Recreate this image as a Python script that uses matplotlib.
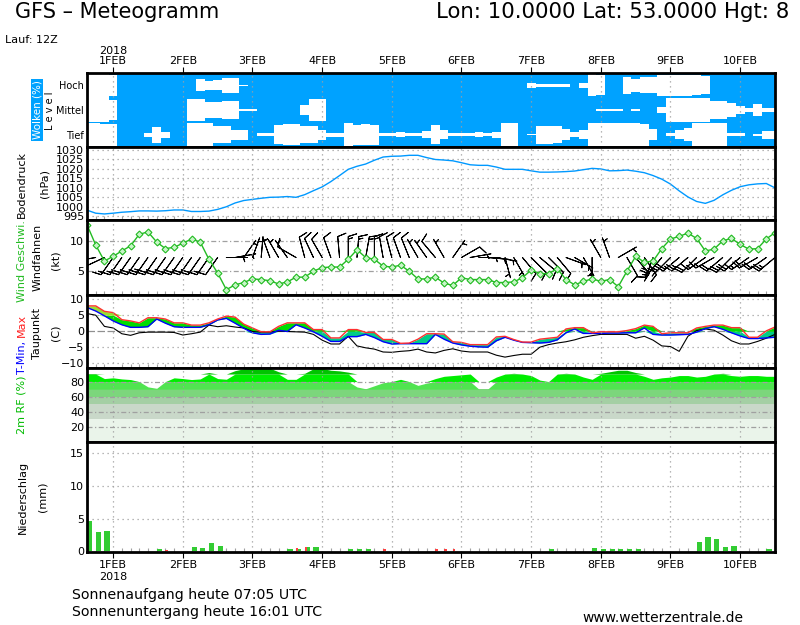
import numpy as np
import matplotlib
matplotlib.use('Agg')
import matplotlib.pyplot as plt
from matplotlib.colors import ListedColormap

#%% Data (3-hourly, days since 1 Feb 2018 00Z, first value 31 Jan 15Z)
t3 = -0.375 + 0.125 * np.arange(80)
day_ticks = list(range(10))
day_labels = ['1FEB', '2FEB', '3FEB', '4FEB', '5FEB', '6FEB', '7FEB', '8FEB', '9FEB', '10FEB']

# cloud cover (%) per level
cloud_low = [5, 5, 10, 10, 100, 100, 100, 84, 36, 77,
             100, 100, 3, 3, 5, 30, 30, 60, 60, 100,
             90, 90, 22, 16, 15, 29, 32, 60, 84, 84,
             7, 20, 15, 20, 85, 85, 80, 90, 90, 70,
             22, 61, 86, 86, 86, 80, 90, 75, 8, 8,
             100, 95, 27, 27, 30, 58, 82, 65, 7, 5,
             3, 3, 5, 7, 10, 56, 100, 89, 63, 45,
             3, 3, 3, 5, 89, 89, 100, 93, 68, 68]
cloud_mid = [0, 0, 0, 20, 100, 100, 100, 100, 100, 100,
             100, 100, 10, 10, 35, 35, 25, 25, 90, 95,
             100, 100, 100, 100, 100, 58, 10, 10, 100, 100,
             100, 100, 100, 100, 100, 100, 100, 100, 100, 100,
             100, 100, 100, 100, 100, 100, 100, 100, 100, 100,
             100, 100, 100, 100, 100, 100, 100, 100, 100, 95,
             95, 95, 100, 90, 100, 100, 73, 5, 5, 5,
             5, 5, 25, 25, 45, 70, 84, 48, 82, 82]
cloud_high = [0, 0, 0, 15, 100, 100, 100, 100, 100, 100,
              100, 100, 100, 52, 62, 60, 40, 40, 95, 100,
              100, 100, 100, 100, 100, 100, 100, 100, 100, 100,
              100, 100, 100, 100, 100, 100, 100, 100, 100, 100,
              100, 100, 100, 100, 100, 100, 100, 100, 100, 100,
              100, 80, 86, 86, 86, 86, 100, 82, 10, 20,
              100, 100, 32, 45, 35, 35, 14, 14, 14, 14,
              18, 28, 100, 100, 100, 100, 100, 100, 100, 100]

# surface pressure (hPa)
pressure = [998.2, 996.6, 996.2, 996.6, 997.1, 997.4, 997.8, 997.8, 997.7, 997.9,
            998.3, 998.3, 997.5, 997.5, 997.7, 998.6, 1000.0, 1002.0, 1003.3, 1003.9,
            1004.5, 1005.0, 1005.1, 1005.4, 1005.0, 1006.4, 1008.5, 1010.5, 1013.3, 1016.5,
            1019.8, 1021.4, 1022.6, 1024.6, 1026.3, 1026.7, 1026.8, 1027.2, 1027.2, 1026.0,
            1025.0, 1024.7, 1024.3, 1023.3, 1022.2, 1021.9, 1021.9, 1021.0, 1019.8, 1019.8,
            1019.8, 1019.0, 1018.3, 1018.3, 1018.4, 1018.6, 1018.9, 1019.6, 1020.3, 1020.0,
            1019.0, 1019.1, 1019.4, 1018.8, 1018.0, 1016.5, 1014.6, 1012.0, 1008.4, 1005.2,
            1002.8, 1001.8, 1003.4, 1006.3, 1008.7, 1010.6, 1011.6, 1012.1, 1012.3, 1010.0]

# wind speed (kt) and direction (deg, from)
wind_speed = [12.8, 9.4, 6.7, 7.5, 8.4, 9.25, 11.2, 11.6, 9.9, 8.8,
              9.0, 9.7, 10.4, 9.9, 7.0, 4.7, 1.9, 2.7, 3.1, 3.7,
              3.6, 3.4, 2.85, 3.2, 4.0, 4.0, 5.0, 5.6, 5.7, 5.7,
              7.0, 8.6, 7.3, 7.0, 5.85, 5.7, 6.0, 5.0, 3.7, 3.7,
              4.0, 3.0, 2.6, 3.9, 3.6, 3.6, 3.6, 3.1, 3.1, 3.2,
              3.9, 5.2, 4.6, 4.6, 5.4, 3.6, 2.7, 3.3, 3.7, 3.3,
              3.6, 2.4, 5.0, 7.5, 6.5, 6.7, 8.8, 10.4, 10.85, 11.4,
              10.5, 8.4, 8.7, 10.1, 10.5, 9.5, 8.7, 8.8, 10.4, 11.5]
wind_dir = [270, 260, 245, 215, 215, 215, 215, 215, 215, 215,
            215, 215, 215, 215, 215, 215, 90, 80, 35, 20,
            5, 340, 330, 325, 300, 345, 335, 330, 340, 355,
            0, 5, 10, 0, 350, 345, 340, 338, 330, 325,
            320, 330, 35, 60, 80, 90, 95, 100, 165, 150,
            140, 135, 130, 135, 140, 110, 120, 150, 180, 330,
            340, 60, 150, 140, 145, 200, 220, 225, 230, 230,
            225, 235, 240, 230, 225, 230, 235, 240, 235, 230]

# temperature (C)
t_max = [7.9, 7.9, 6.2, 5.8, 3.6, 3.2, 2.6, 4.2, 4.2, 3.8,
         2.6, 2.6, 1.9, 1.9, 2.6, 3.8, 4.7, 4.4, 2.2, 1.0,
         -0.2, -0.2, 1.5, 2.6, 2.6, 2.6, 0.5, 0.5, -2.1, -2.1,
         0.5, 0.5, -0.4, -0.4, -2.6, -2.6, -3.8, -3.7, -2.5, -0.8,
         -0.8, -0.9, -3.3, -3.5, -4.2, -4.2, -4.2, -1.8, -1.6, -2.6,
         -3.4, -3.4, -2.5, -2.2, -1.9, 0.7, 1.1, 1.1, -0.5, -0.2,
         -0.2, -0.2, 0.2, 0.8, 1.9, 1.5, -0.8, -0.5, -0.5, -0.5,
         1.0, 1.5, 1.9, 1.9, 1.1, 1.1, -1.9, -1.9, 0.1, 1.3]
t_min = [7.4, 6.3, 4.8, 3.2, 2.0, 1.2, 1.2, 1.4, 3.8, 2.5,
         1.4, 1.2, 1.2, 1.2, 2.0, 3.5, 4.0, 2.5, 0.9, -0.5,
         -1.0, -0.9, 0.3, -0.1, 2.0, 1.0, -0.2, -1.6, -3.2, -3.2,
         -1.7, -1.7, -1.0, -2.0, -3.3, -4.0, -3.9, -3.9, -3.9, -3.9,
         -1.0, -2.5, -3.7, -4.3, -4.7, -4.9, -5.0, -3.0, -1.9, -2.8,
         -3.5, -3.6, -3.7, -3.5, -2.7, -0.5, 0.7, -0.7, -0.7, -0.7,
         -0.6, -0.6, -0.5, -0.5, 1.0, -1.0, -1.2, -1.2, -1.1, -1.0,
         -0.3, 0.8, 1.4, 0.6, -0.5, -1.5, -2.3, -2.3, -2.1, -1.9]
dew_point = [5.5, 5.0, 1.5, 1.0, -0.8, -1.3, -0.5, -0.3, -0.3, -0.3,
             -0.4, -1.2, -0.8, -0.3, 1.9, 1.4, 1.7, 1.3, 1.0, -0.1,
             -0.3, -0.3, 0.0, -0.1, -0.2, -0.3, -1.0, -2.8, -4.0, -4.0,
             -1.6, -4.6, -5.2, -5.6, -6.5, -6.6, -6.3, -6.1, -5.6, -6.5,
             -6.8, -6.0, -5.5, -6.2, -6.5, -6.5, -6.5, -7.5, -8.1, -7.6,
             -7.2, -7.2, -5.0, -4.2, -3.7, -3.3, -2.7, -1.9, -1.4, -1.0,
             -1.0, -1.0, -1.0, -2.2, -1.6, -2.8, -4.6, -4.8, -6.3, -1.6,
             0.2, 0.7, 0.3, -1.2, -3.0, -4.0, -4.0, -3.2, -2.2, -1.0]

# 2m relative humidity (%)
rel_hum = [90.7, 90.7, 84, 85, 83.5, 82.7, 80, 73, 71.1, 80,
           85, 84, 82.7, 83.5, 92, 84, 83.1, 94.5, 97, 98,
           98.5, 97.7, 93, 83, 83, 91, 97, 97.5, 95, 94.2,
           92.5, 72.9, 70.5, 74.5, 78.5, 80, 83, 80, 75, 78,
           84, 87, 88, 89, 90, 70, 70, 86, 90, 91,
           90, 88, 82, 80, 90, 91, 90, 86, 83, 91,
           93, 95, 95, 92, 87, 83, 85, 86, 88, 88,
           86, 87, 90, 91, 88, 87, 88, 88, 87, 87]

# precipitation (mm / 3h)
precip = [4.6, 2.9, 3.1, 0, 0, 0, 0, 0, 0.3, 0,
          0, 0, 0.7, 0.5, 1.3, 0.8, 0, 0, 0, 0,
          0, 0, 0, 0.3, 0.4, 0.6, 0.6, 0, 0, 0,
          0.3, 0.3, 0.3, 0, 0, 0, 0, 0, 0, 0,
          0, 0, 0, 0, 0, 0, 0, 0, 0, 0,
          0, 0, 0, 0.3, 0, 0, 0, 0, 0.5, 0.35,
          0.35, 0.35, 0.35, 0.35, 0, 0, 0, 0, 0, 0,
          1.5, 2.2, 1.9, 0.7, 0.8, 0, 0, 0, 0.3, 0]
precip_conv = [0.3, 0, 0, 0, 0, 0, 0, 0, 0, 0.15,
               0, 0, 0, 0, 0, 0, 0.1, 0, 0, 0,
               0, 0, 0, 0, 0.5, 0.6, 0, 0, 0, 0,
               0, 0, 0, 0, 0.3, 0, 0, 0, 0, 0,
               0.3, 0.3, 0.3, 0, 0, 0, 0, 0, 0, 0,
               0, 0, 0, 0, 0, 0, 0, 0, 0, 0,
               0, 0, 0, 0, 0, 0, 0, 0, 0, 0,
               0, 0, 0, 0, 0, 0, 0, 0, 0, 0]

rh_levels = [0, 30, 50, 60, 70, 80, 90, 100]
rh_colors = ['#EAF4EA', '#C9D8C9', '#A4CFA4', '#7CD67C', '#50E450', '#00EE00', '#00C400']

#%% Figure layout (pixel based, 800x625)
fig = plt.figure(figsize=(8, 6.25), dpi=100)
W_PX, H_PX = 800, 625
LEFT, RIGHT = 87, 775

def px(x, y):
    return x / W_PX, 1 - y / H_PX

def panel(top, bottom):
    return fig.add_axes([LEFT / W_PX, 1 - bottom / H_PX, (RIGHT - LEFT) / W_PX, (bottom - top) / H_PX])

grid_col = '#A0A0A0'
dotted = (0, (1, 3))
dashdot = (0, (4, 2, 1, 2))

def style(ax):
    ax.set_xlim(t3[0], t3[-1])
    for s in ax.spines.values():
        s.set_linewidth(2)
        s.set_zorder(10)
    ax.set_xticks(day_ticks)
    ax.set_xticks(t3, minor=True)
    ax.tick_params(axis='x', which='major', length=0, labelbottom=False)
    ax.tick_params(axis='x', which='minor', length=3, color=grid_col, direction='in', width=0.8)
    ax.tick_params(axis='y', length=0, labelsize=8, pad=2)
    for d in day_ticks:
        ax.axvline(d, color=grid_col, ls=dotted, lw=0.9, zorder=6)

def hgrid(ax, vals, ls=dotted, col=grid_col, z=1):
    for v in vals:
        ax.axhline(v, color=col, ls=ls, lw=0.9, zorder=z)

cloud_blue = '#00A2FF'

#%% Clouds: blue = cloud, white gap = clear part of each level
ax1 = panel(73, 147)
style(ax1)
ax1.set_ylim(0, 3)
y_edges = np.linspace(0, 3, 301)
y_mid = (y_edges[:-1] + y_edges[1:]) / 2
t_edges = np.concatenate([[t3[0] - 0.0625], (t3[:-1] + t3[1:]) / 2, [t3[-1] + 0.0625]])
cloud_img = np.ones((len(y_mid), len(t3)))
for centre, cover in zip([0.5, 1.5, 2.5], [cloud_low, cloud_mid, cloud_high]):
    gap = (100 - np.array(cover)) / 200.0
    dist = np.abs(y_mid - centre)[:, None]
    inband = (dist <= 0.5)
    cloud_img = np.where(inband & (dist < gap[None, :]), 0, cloud_img)
ax1.pcolormesh(t_edges, y_edges, cloud_img, cmap=ListedColormap(['white', cloud_blue]),
               vmin=0, vmax=1, shading='flat', antialiased=False, zorder=2)
ax1.set_yticks([0.5, 1.5, 2.5])
ax1.set_yticklabels(['Tief', 'Mittel', 'Hoch'], fontsize=7)
ax1.tick_params(axis='x', which='major', top=True, labeltop=True, length=4,
                direction='out', labelsize=8, pad=1)
ax1.set_xticklabels(day_labels)

#%% Pressure
ax2 = panel(147, 220)
style(ax2)
ax2.set_ylim(993, 1031.6)
ax2.set_yticks(range(995, 1031, 5))
hgrid(ax2, range(995, 1031, 5))
ax2.plot(t3, pressure, color='#0099FF', lw=1, zorder=3)

#%% Wind
ax3 = panel(220, 295)
style(ax3)
ax3.set_ylim(1.0, 13.6)
ax3.set_yticks([5, 10])
hgrid(ax3, [5, 10], ls=dashdot)
ws = np.array(wind_speed)
wd = np.deg2rad(wind_dir)
u = -ws * np.sin(wd)
v = -ws * np.cos(wd)
ax3.barbs(t3, np.full(len(t3), 7.3), u, v, length=5.5, pivot='tip',
          color='black', linewidth=0.7, zorder=3,
          barb_increments=dict(half=2.5, full=5, flag=25))
ax3.plot(t3, wind_speed, color='#22BB22', lw=1, marker='D', ms=3.5,
         mfc='#C8F5C8', mec='#22BB22', mew=0.8, zorder=4)

#%% Temperature (fill colour by range: above 5, 0..5, below 0)
ax4 = panel(295, 368)
style(ax4)
ax4.set_ylim(-11.5, 11.3)
ax4.set_yticks([-10, -5, 0, 5, 10])
hgrid(ax4, [-10, -5, 5, 10])
hgrid(ax4, [0], ls=(0, (6, 2)), col='#909090')
tmin = np.array(t_min)
tmax = np.array(t_max)
for lo, hi, c in [(-30, 0, '#00CC88'), (0, 5, '#00DD00'), (5, 30, '#99DD33')]:
    ax4.fill_between(t3, np.clip(tmin, lo, hi), np.clip(tmax, lo, hi), color=c, lw=0, zorder=2)
ax4.plot(t3, dew_point, color='black', lw=0.8, zorder=3)
ax4.plot(t3, t_min, color='#0000FF', lw=1, zorder=4)
ax4.plot(t3, t_max, color='#FF3030', lw=1, zorder=4)

#%% Relative humidity
ax5 = panel(368, 442)
style(ax5)
ax5.set_ylim(0, 98)
ax5.set_yticks([20, 40, 60, 80])
rh = np.array(rel_hum)
for lo, hi, c in zip(rh_levels[:-1], rh_levels[1:], rh_colors):
    ax5.fill_between(t3, lo, np.clip(rh, lo, hi), color=c, lw=0, zorder=2)
hgrid(ax5, [20, 40, 60, 80], ls=dashdot, z=5)

#%% Precipitation
ax6 = panel(442, 552)
style(ax6)
ax6.set_ylim(-0.1, 16.7)
ax6.set_yticks([0, 5, 10, 15])
hgrid(ax6, [5, 10, 15])
ax6.bar(t3, precip, width=0.075, align='edge', color='#33CC33', zorder=3)
ax6.bar(t3, precip_conv, width=0.035, align='edge', color='#FF4040', zorder=4)
ax6.tick_params(axis='x', which='major', length=4, direction='out', labelbottom=True,
                labelsize=8, pad=2)
ax6.set_xticklabels(day_labels)

#%% Texts
fig.text(*px(15, 12), 'GFS – Meteogramm', fontsize=15, va='center', ha='left')
fig.text(*px(436, 12), 'Lon: 10.0000 Lat: 53.0000 Hgt: 8', fontsize=15.3, va='center', ha='left')
fig.text(*px(5, 40), 'Lauf: 12Z', fontsize=8, va='center', ha='left')
fig.text(*px(113, 51), '2018', fontsize=8, va='center', ha='center')
fig.text(*px(113, 577), '2018', fontsize=8, va='center', ha='center')

fig.text(*px(37, 110), 'Wolken (%)', rotation=90, fontsize=7.5, color='white', ha='center',
         va='center', bbox=dict(facecolor=cloud_blue, edgecolor='none', pad=1.0))
fig.text(*px(50, 111), 'L e v e l', rotation=90, fontsize=7, ha='center', va='center')
fig.text(*px(22, 184), 'Bodendruck', rotation=90, fontsize=8, ha='center', va='center')
fig.text(*px(45, 184), '(hPa)', rotation=90, fontsize=8, ha='center', va='center')
fig.text(*px(22, 261), 'Wind Geschwi.', rotation=90, fontsize=8, color='#22BB22', ha='center', va='center')
fig.text(*px(38, 257), 'Windfahnen', rotation=90, fontsize=8, ha='center', va='center')
fig.text(*px(55, 260), '(kt)', rotation=90, fontsize=8, ha='center', va='center')
fig.text(*px(22, 374), 'T-Min,', rotation=90, fontsize=8, color='#0000FF', ha='center', va='bottom')
fig.text(*px(22, 337), 'Max', rotation=90, fontsize=8, color='#FF2020', ha='center', va='bottom')
fig.text(*px(37, 333), 'Taupunkt', rotation=90, fontsize=8, ha='center', va='center')
fig.text(*px(55, 333), '(C)', rotation=90, fontsize=8, ha='center', va='center')
fig.text(*px(22, 405), '2m RF (%)', rotation=90, fontsize=8, color='#00BB00', ha='center', va='center')
fig.text(*px(23, 497), 'Niederschlag', rotation=90, fontsize=8, ha='center', va='center')
fig.text(*px(42, 497), '(mm)', rotation=90, fontsize=8, ha='center', va='center')

fig.text(*px(72, 595), 'Sonnenaufgang heute 07:05 UTC', fontsize=10.2, va='center', ha='left')
fig.text(*px(72, 612), 'Sonnenuntergang heute 16:01 UTC', fontsize=10.2, va='center', ha='left')
fig.text(*px(582, 618), 'www.wetterzentrale.de', fontsize=10, va='center', ha='left')

fig.savefig('out.png', dpi=100)
